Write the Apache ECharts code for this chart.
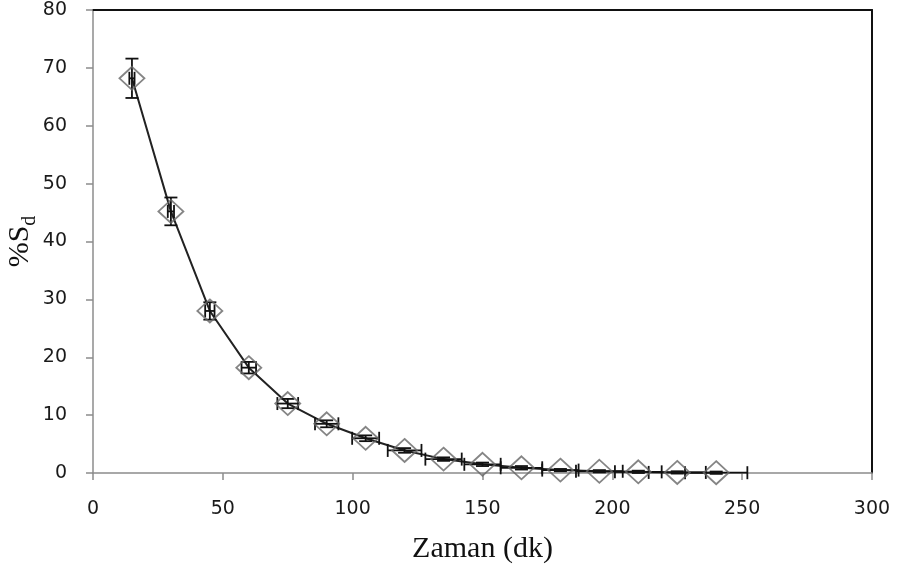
<!DOCTYPE html>
<html>
<head>
<meta charset="utf-8">
<script src="https://cdn.jsdelivr.net/npm/echarts@6/dist/echarts.min.js"></script>
<style>html,body{margin:0;padding:0;background:#fff}#c{width:899px;height:572px}</style>
</head>
<body>
<div id="c"></div>
<script>
// Data
var times = [15, 30, 45, 60, 75, 90, 105, 120, 135, 150, 165, 180, 195, 210, 225, 240];
var sdValues = [68.2, 45.2, 28, 18.2, 12, 8.5, 6, 3.9, 2.4, 1.5, 0.9, 0.5, 0.3, 0.2, 0.1, 0.05];
var yErrors = [3.4, 2.4, 1.5, 1.0, 0.8, 0.6, 0.5, 0.4, 0.3, 0.3, 0.3, 0.2, 0.2, 0.2, 0.2, 0.2];
var xErrors = [1, 1.2, 1.8, 2.8, 4, 4.5, 5.2, 6.5, 7, 7, 8, 7, 9, 9, 11, 12];
var xTicks = [0, 50, 100, 150, 200, 250, 300];
var yTicks = [0, 10, 20, 30, 40, 50, 60, 70, 80];

var chart = echarts.init(document.getElementById('c'));
var pts = times.map(function (t, i) { return [t, sdValues[i]]; });
var errData = times.map(function (t, i) { return [t, sdValues[i], xErrors[i], yErrors[i]]; });

var cap = 6.5;
function renderErr(params, api) {
  var x = api.value(0), y = api.value(1), xe = api.value(2), ye = api.value(3);
  var c = api.coord([x, y]);
  var top = api.coord([x, y + ye]), bot = api.coord([x, y - ye]);
  var lft = api.coord([x - xe, y]), rgt = api.coord([x + xe, y]);
  var st = { stroke: '#111', lineWidth: 1.8, fill: null };
  var ch = [];
  function ln(x1, y1, x2, y2) { ch.push({ type: 'line', shape: { x1: x1, y1: y1, x2: x2, y2: y2 }, style: st }); }
  ln(c[0], top[1], c[0], bot[1]);
  ln(c[0] - cap, top[1], c[0] + cap, top[1]);
  ln(c[0] - cap, bot[1], c[0] + cap, bot[1]);
  ln(lft[0], c[1], rgt[0], c[1]);
  ln(lft[0], c[1] - cap, lft[0], c[1] + cap);
  ln(rgt[0], c[1] - cap, rgt[0], c[1] + cap);
  return { type: 'group', children: ch };
}

var labelStyle = { color: '#1a1a1a', fontFamily: 'DejaVu Sans', fontSize: 19 };
chart.setOption({
  animation: false,
  backgroundColor: '#fff',
  grid: { left: 93, right: 27, top: 10, bottom: 99, containLabel: false, outerBoundsMode: 'none' },
  xAxis: [{
    type: 'value', min: 0, max: 300, interval: 50,
    axisLine: { show: true, onZero: false, lineStyle: { color: '#8c8c8c', width: 1.5 } },
    axisTick: { show: true, inside: false, length: 7, lineStyle: { color: '#8c8c8c', width: 1.5 } },
    axisLabel: Object.assign({ margin: 27, formatter: function (v) { return xTicks.indexOf(v) >= 0 ? String(v) : ''; } }, labelStyle),
    splitLine: { show: false },
    name: 'Zaman (dk)', nameLocation: 'middle', nameGap: 61, nameMoveOverlap: false,
    nameTextStyle: { fontFamily: 'Liberation Serif', fontSize: 30, color: '#111' }
  }, {
    type: 'value', position: 'top', min: 0, max: 300, interval: 50,
    axisLine: { show: true, onZero: false, lineStyle: { color: '#111', width: 2 } },
    axisTick: { show: false }, axisLabel: { show: false }, splitLine: { show: false }
  }],
  yAxis: [{
    type: 'value', min: 0, max: 80, interval: 10,
    axisLine: { show: true, onZero: false, lineStyle: { color: '#8c8c8c', width: 1.5 } },
    axisTick: { show: true, inside: false, length: 7, lineStyle: { color: '#8c8c8c', width: 1.5 } },
    axisLabel: Object.assign({ margin: 26, formatter: function (v) { return yTicks.indexOf(v) >= 0 ? String(v) : ''; } }, labelStyle),
    splitLine: { show: false },
    name: '{a|%S}{b|d}', nameLocation: 'middle', nameGap: 58, nameMoveOverlap: false,
    nameTextStyle: {
      color: '#111',
      rich: {
        a: { fontFamily: 'Liberation Serif', fontSize: 30, color: '#111', lineHeight: 34, verticalAlign: 'bottom' },
        b: { fontFamily: 'Liberation Serif', fontSize: 20, color: '#111', lineHeight: 34, verticalAlign: 'bottom', padding: [0, 0, -5, 0] }
      }
    }
  }, {
    type: 'value', position: 'right', min: 0, max: 80, interval: 10,
    axisLine: { show: true, onZero: false, lineStyle: { color: '#111', width: 2 } },
    axisTick: { show: false }, axisLabel: { show: false }, splitLine: { show: false }
  }],
  series: [{
    type: 'line', data: pts, symbol: 'none', z: 2,
    lineStyle: { color: '#222', width: 2 }
  }, {
    type: 'custom', data: errData, renderItem: renderErr, z: 3
  }, {
    type: 'scatter', data: pts, symbol: 'diamond', symbolSize: [25, 23], z: 4,
    itemStyle: { color: 'rgba(0,0,0,0)', borderColor: '#666', borderWidth: 1.8 }
  }]
});
</script>
</body>
</html>
